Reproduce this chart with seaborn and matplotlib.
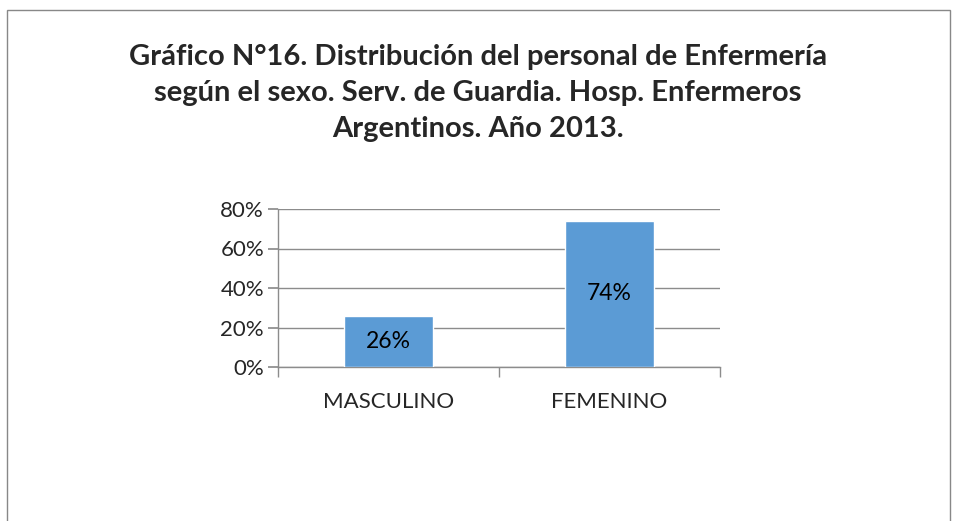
import matplotlib
matplotlib.use("Agg")
import matplotlib.pyplot as plt
import seaborn as sns
import pandas as pd
from matplotlib.patches import Rectangle

categories = ["MASCULINO", "FEMENINO"]
values = [0.26, 0.74]
labels = ["26%", "74%"]
yticks = [0.0, 0.2, 0.4, 0.6, 0.8]
ytick_labels = ["0%", "20%", "40%", "60%", "80%"]
title = ("Gráfico N°16. Distribución del personal de Enfermería\n"
         "según el sexo. Serv. de Guardia. Hosp. Enfermeros\n"
         "Argentinos. Año 2013.")

sns.set_theme(style="white")
plt.rcParams['font.family'] = ['Lato', 'DejaVu Sans']

df = pd.DataFrame({"cat": categories, "val": values})

fig = plt.figure(figsize=(9.56, 5.21), dpi=100)
fig.patches.append(Rectangle((7/956, -0.1), (950-7)/956, 1.1 - 10/521 + 0.0,
                             transform=fig.transFigure, fill=False,
                             edgecolor="#888888", linewidth=1.0))
ax = fig.add_axes([278/956, 1-367/521, (720-278)/956, (367-209)/521])

sns.barplot(data=df, x="cat", y="val", color="#5B9BD5", width=0.4,
            saturation=1, ax=ax, zorder=3)

ax.set_ylim(0, 0.8)
ax.set_xlim(-0.5, 1.5)
ax.set_yticks(yticks)
ax.set_yticklabels(ytick_labels, fontsize=16)
ax.yaxis.grid(True, color="#8c8c8c", linewidth=1.0, zorder=0)
ax.set_axisbelow(True)
ax.set_xlabel("")
ax.set_ylabel("")
for s in ["top", "right"]:
    ax.spines[s].set_visible(False)
for s in ["left", "bottom"]:
    ax.spines[s].set_color("#8c8c8c")
    ax.spines[s].set_linewidth(1.0)
ax.tick_params(axis="y", left=True, length=7, color="#8c8c8c", pad=3)
ax.tick_params(axis="x", bottom=False, pad=12)
ax.set_xticks([0, 1])
ax.set_xticklabels(categories, fontsize=16)
ax.set_xticks([-0.5, 0.5, 1.5], minor=True)
ax.tick_params(axis="x", which="minor", bottom=True, length=7, color="#8c8c8c")

for i, (v, lab) in enumerate(zip(values, labels)):
    ax.text(i, v / 2, lab, ha="center", va="center", fontsize=16.5, color="black", zorder=4)

fig.text(0.5, 1 - 93/521, title, ha="center", va="center", fontsize=21,
         fontweight="bold", linespacing=1.48)

fig.savefig("out.png", dpi=100)
